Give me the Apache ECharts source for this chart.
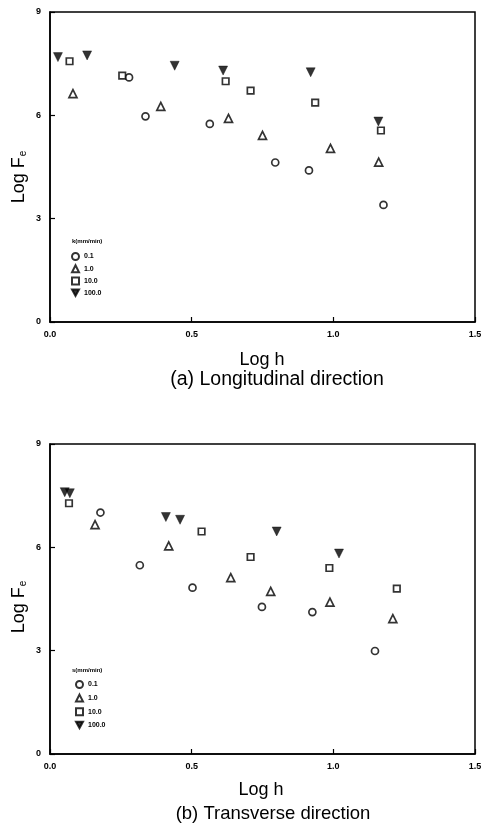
<!DOCTYPE html>
<html>
<head>
<meta charset="utf-8">
<script src="https://cdn.jsdelivr.net/npm/echarts@6/dist/echarts.min.js"></script>
<style>html,body{margin:0;padding:0;background:#fff}#c{width:485px;height:827px}</style>
</head>
<body>
<div id="c"></div>
<script>
// ---- data ----
const seriesNames = ['0.1', '1.0', '10.0', '100.0'];
const xTicks = [0.0, 0.5, 1.0, 1.5];
const yTicks = [0, 3, 6, 9];

// (a) Longitudinal direction
const aCircleX = [0.279, 0.337, 0.564, 0.795, 0.914, 1.177];
const aCircleY = [7.10, 5.97, 5.75, 4.63, 4.40, 3.40];
const aTriX = [0.081, 0.391, 0.630, 0.750, 0.990, 1.160];
const aTriY = [6.63, 6.26, 5.91, 5.42, 5.04, 4.64];
const aSqX = [0.069, 0.255, 0.620, 0.708, 0.936, 1.168];
const aSqY = [7.57, 7.15, 6.99, 6.72, 6.37, 5.56];
const aInvX = [0.028, 0.131, 0.440, 0.611, 0.920, 1.159];
const aInvY = [7.69, 7.74, 7.44, 7.30, 7.25, 5.82];

// (b) Transverse direction
const bCircleX = [0.178, 0.317, 0.503, 0.748, 0.926, 1.147];
const bCircleY = [7.01, 5.48, 4.83, 4.27, 4.12, 2.99];
const bTriX = [0.159, 0.419, 0.638, 0.779, 0.988, 1.210];
const bTriY = [6.66, 6.04, 5.12, 4.72, 4.41, 3.93];
const bSqX = [0.067, 0.535, 0.708, 0.986, 1.224];
const bSqY = [7.28, 6.46, 5.72, 5.40, 4.80];
const bInvX = [0.052, 0.070, 0.409, 0.459, 0.800, 1.020];
const bInvY = [7.60, 7.57, 6.88, 6.80, 6.46, 5.82];

const legendTitleA = 'k(mm/min)';
const legendTitleB = 's(mm/min)';
const xName = 'Log h';
const captionA = '(a) Longitudinal direction';
const captionB = '(b) Transverse direction';

// ---- build ----
const zip = (xs, ys) => xs.map((x, i) => [x, ys[i]]);
const FONT = 'Liberation Sans, Arial, sans-serif';
const invTri = 'path://M0,0L10,0L5,9Z';

const styles = [
  { symbol: 'circle', size: 7, item: { color: '#fff', borderColor: '#000', borderWidth: 1.7 } },
  { symbol: 'triangle', size: 8, item: { color: '#fff', borderColor: '#000', borderWidth: 1.7 } },
  { symbol: 'rect', size: 6.5, item: { color: '#fff', borderColor: '#000', borderWidth: 1.7 } },
  { symbol: invTri, size: 9, item: { color: '#000', borderColor: '#000', borderWidth: 0.5 } }
];

function mkSeries(gi, sets) {
  return sets.map((d, i) => ({
    type: 'scatter', name: seriesNames[i],
    xAxisIndex: gi, yAxisIndex: gi,
    symbol: styles[i].symbol, symbolSize: styles[i].size,
    itemStyle: styles[i].item,
    emphasis: { disabled: true },
    data: d
  }));
}

const series = [].concat(
  mkSeries(0, [zip(aCircleX, aCircleY), zip(aTriX, aTriY), zip(aSqX, aSqY), zip(aInvX, aInvY)]),
  mkSeries(1, [zip(bCircleX, bCircleY), zip(bTriX, bTriY), zip(bSqX, bSqY), zip(bInvX, bInvY)])
);

function xAx(gi) {
  return {
    type: 'value', gridIndex: gi, min: xTicks[0], max: xTicks[xTicks.length - 1], interval: 0.5,
    axisLine: { onZero: false, lineStyle: { color: '#000', width: 1.5 } },
    axisTick: { inside: true, length: 5, lineStyle: { color: '#000', width: 1.2 } },
    splitLine: { show: false },
    axisLabel: { color: '#000', fontFamily: FONT, fontSize: 9, fontWeight: 'bold', margin: 8,
      formatter: v => v.toFixed(1) }
  };
}
function yAx(gi) {
  return {
    type: 'value', gridIndex: gi, min: yTicks[0], max: yTicks[yTicks.length - 1], interval: 3,
    axisLine: { onZero: false, lineStyle: { color: '#000', width: 1.5 } },
    axisTick: { inside: true, length: 5, lineStyle: { color: '#000', width: 1.2 } },
    splitLine: { show: false },
    axisLabel: { color: '#000', fontFamily: FONT, fontSize: 9, fontWeight: 'bold', margin: 9 }
  };
}

function legend(left, top, gap) {
  return {
    orient: 'vertical', left: left, top: top, itemWidth: 7, itemHeight: 7, itemGap: gap,
    selectedMode: false, padding: 0,
    textStyle: { color: '#000', fontFamily: FONT, fontSize: 7, fontWeight: 'bold', padding: [0, 0, 0, 0] },
    data: seriesNames.map(n => ({ name: n }))
  };
}

function txt(x, y, text, size, extra) {
  return Object.assign({
    type: 'text', x: x, y: y,
    style: { text: text, fill: '#000', font: size + 'px ' + FONT, align: 'center', verticalAlign: 'middle' }
  }, extra || {});
}
function yName(x, y) {
  return {
    type: 'text', x: x, y: y, rotation: Math.PI / 2,
    style: {
      text: '{m|Log F}{s|e}', fill: '#000', align: 'center', verticalAlign: 'middle',
      rich: {
        m: { fontFamily: FONT, fontSize: 18, fill: '#000' },
        s: { fontFamily: FONT, fontSize: 10, fill: '#000', verticalAlign: 'bottom', padding: [9, 0, 0, 1] }
      }
    }
  };
}

const option = {
  backgroundColor: '#fff',
  animation: false,
  grid: [
    { left: 50, top: 12, width: 425, height: 310, show: true, borderColor: '#000', borderWidth: 1.5, backgroundColor: 'transparent' },
    { left: 50, top: 444, width: 425, height: 310, show: true, borderColor: '#000', borderWidth: 1.5, backgroundColor: 'transparent' }
  ],
  xAxis: [xAx(0), xAx(1)],
  yAxis: [yAx(0), yAx(1)],
  legend: [legend(71, 252, 3.2), legend(75, 680, 4.6)],
  series: series,
  graphic: [
    txt(262, 360, xName, 18),
    txt(277, 380, captionA, 19.5),
    txt(261, 790, xName, 18),
    txt(273, 814, captionB, 18.5),
    yName(19, 177),
    yName(19, 607),
    { type: 'text', x: 72, y: 241, style: { text: legendTitleA, fill: '#000', font: 'bold 6px ' + FONT, verticalAlign: 'middle' } },
    { type: 'text', x: 72, y: 670, style: { text: legendTitleB, fill: '#000', font: 'bold 6px ' + FONT, verticalAlign: 'middle' } }
  ]
};

const chart = echarts.init(document.getElementById('c'), null, { renderer: 'canvas' });
chart.setOption(option);
</script>
</body>
</html>
